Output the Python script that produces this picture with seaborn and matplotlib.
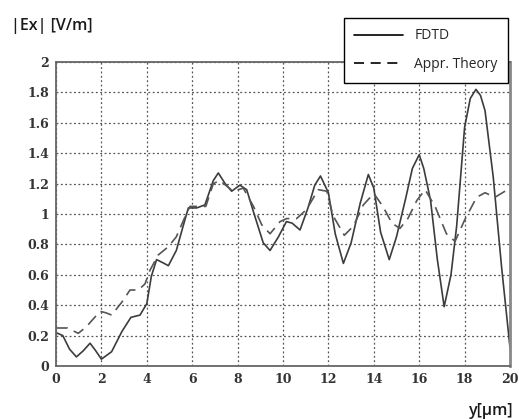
import numpy as np
import pandas as pd
import matplotlib
matplotlib.use("Agg")
import matplotlib.pyplot as plt
import seaborn as sns
from matplotlib.ticker import MultipleLocator
from matplotlib.lines import Line2D

# ---- data ----
fdtd_x = [0.0, 0.3, 0.6, 0.9, 1.2, 1.5, 1.75, 2.0, 2.45, 2.9, 3.3, 3.7, 4.0, 4.2,
          4.43, 4.7, 4.95, 5.3, 5.6, 5.83, 6.2, 6.56, 6.93, 7.15, 7.45, 7.74, 8.1,
          8.4, 8.77, 9.13, 9.43, 9.8, 10.15, 10.4, 10.75, 11.1, 11.4, 11.65, 12.0,
          12.3, 12.66, 13.0, 13.4, 13.76, 14.0, 14.3, 14.68, 15.0, 15.4, 15.7, 16.0,
          16.2, 16.5, 16.8, 17.1, 17.4, 17.65, 18.0, 18.25, 18.5, 18.7, 18.9, 19.26,
          19.63, 20.0]
fdtd_y = [0.22, 0.20, 0.11, 0.06, 0.10, 0.15, 0.10, 0.045, 0.094, 0.226, 0.32, 0.335,
          0.41, 0.59, 0.70, 0.68, 0.66, 0.76, 0.92, 1.04, 1.04, 1.06, 1.22, 1.27, 1.20,
          1.15, 1.19, 1.16, 0.98, 0.81, 0.76, 0.85, 0.95, 0.94, 0.895, 1.04, 1.19, 1.25,
          1.14, 0.87, 0.675, 0.81, 1.07, 1.26, 1.17, 0.88, 0.70, 0.85, 1.10, 1.30, 1.39,
          1.30, 1.09, 0.70, 0.39, 0.60, 0.92, 1.57, 1.76, 1.82, 1.78, 1.68, 1.245, 0.65,
          0.12]

theory_x = [0.0, 0.5, 0.98, 1.35, 1.94, 2.2, 2.45, 2.9, 3.26, 3.63, 3.92, 4.14, 4.5,
            4.95, 5.3, 5.68, 5.9, 6.6, 6.93, 7.22, 7.8, 8.25, 8.7, 9.06, 9.43, 9.87,
            10.16, 10.6, 11.04, 11.55, 11.93, 12.2, 12.7, 13.1, 13.54, 14.0, 14.4,
            14.8, 15.15, 15.5, 15.9, 16.26, 16.7, 17.2, 17.58, 18.0, 18.53, 18.9,
            19.34, 20.0]
theory_y = [0.25, 0.25, 0.215, 0.26, 0.36, 0.35, 0.335, 0.42, 0.50, 0.50, 0.54, 0.63,
            0.73, 0.785, 0.85, 0.98, 1.05, 1.05, 1.20, 1.22, 1.15, 1.17, 1.05, 0.93,
            0.87, 0.95, 0.97, 0.97, 1.03, 1.16, 1.15, 0.99, 0.86, 0.92, 1.06, 1.135,
            1.05, 0.94, 0.905, 0.97, 1.09, 1.16, 1.05, 0.87, 0.82, 0.96, 1.11, 1.14,
            1.11, 1.17]

series_names = ["FDTD", "Appr. Theory"]
x_ticks = [0, 2, 4, 6, 8, 10, 12, 14, 16, 18, 20]
y_ticks = [0, 0.2, 0.4, 0.6, 0.8, 1, 1.2, 1.4, 1.6, 1.8, 2]
y_tick_labels = ["0", "0.2", "0.4", "0.6", "0.8", "1", "1.2", "1.4", "1.6", "1.8", "2"]

df = pd.concat([
    pd.DataFrame({"y_um": fdtd_x, "Ex": fdtd_y, "series": series_names[0]}),
    pd.DataFrame({"y_um": theory_x, "Ex": theory_y, "series": series_names[1]}),
], ignore_index=True)

sns.set_style("white")

fig = plt.figure(figsize=(5.19, 4.19), dpi=100)
ax = fig.add_axes([56/519, 1-366/419, (510-56)/519, (366-62)/419])

line_color = "#3c3c3c"
sns.lineplot(data=df, x="y_um", y="Ex", hue="series", style="series",
             palette={series_names[0]: line_color, series_names[1]: "#555555"},
             dashes={series_names[0]: "", series_names[1]: (7, 4)},
             linewidth=1.2, ax=ax, legend=False, sort=False, estimator=None)
for ln in ax.get_lines():
    ln.set_solid_joinstyle("round")
    ln.set_dash_joinstyle("round")

ax.set_xlim(0, 20)
ax.set_ylim(0, 2)
ax.set_xticks(x_ticks)
ax.set_xticklabels([str(t) for t in x_ticks])
ax.set_yticks(y_ticks)
ax.set_yticklabels(y_tick_labels)
ax.xaxis.set_minor_locator(MultipleLocator(0.25))
ax.yaxis.set_minor_locator(MultipleLocator(0.04))
ax.tick_params(which="both", direction="in", color="#555555", top=False, right=False)
ax.tick_params(which="major", length=4, pad=5)
ax.tick_params(which="minor", length=3, width=0.8)

for lab in ax.get_xticklabels() + ax.get_yticklabels():
    lab.set_fontfamily("DejaVu Serif")
    lab.set_fontweight("bold")
    lab.set_fontsize(9)
    lab.set_color("#333333")

ax.grid(True, which="major", linestyle=(0, (1.5, 2)), color="#555555", linewidth=0.9)
ax.set_xlabel("")
ax.set_ylabel("")

for side in ["left", "bottom", "top"]:
    ax.spines[side].set_color("#666666")
    ax.spines[side].set_linewidth(1.3)
ax.spines["right"].set_color("#888888")
ax.spines["right"].set_linewidth(2.0)

# labels
fig.text(11/519, 1-30/419, "|Ex| [V/m]", fontfamily="Open Sans", fontweight="semibold",
         fontsize=11.5, color="#1a1a1a", ha="left", va="baseline")
fig.text(514/519, 1-415/419, "y[\u03bcm]", fontfamily="Open Sans", fontweight="semibold",
         fontsize=11.5, color="#1a1a1a", ha="right", va="baseline")

# legend
handles = [Line2D([], [], color="black", lw=1.2),
           Line2D([], [], color="black", lw=1.2, dashes=(6, 4))]
leg = fig.legend(handles, series_names, loc="upper right",
                 bbox_to_anchor=(508/519, 1-18/419), frameon=True, fancybox=False,
                 edgecolor="black", framealpha=1, handlelength=3.5, handletextpad=0.8,
                 borderpad=0.75, labelspacing=1.0, borderaxespad=0,
                 prop={"family": "Open Sans", "size": 10})
leg.get_frame().set_linewidth(1.0)

fig.savefig("out.png", dpi=100)
